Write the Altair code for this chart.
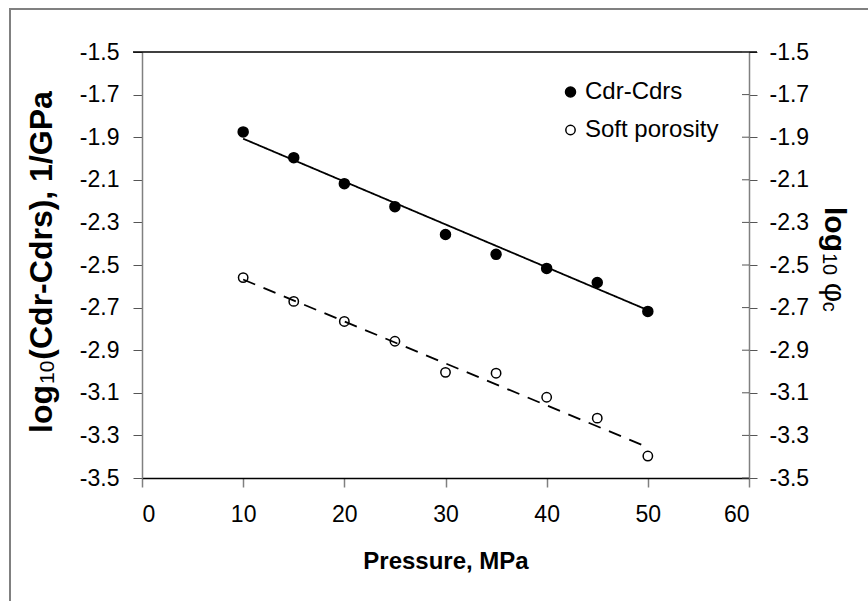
import altair as alt
import pandas as pd

# ---------------- data ----------------
pressure = [10, 15, 20, 25, 30, 35, 40, 45, 50]
cdr_cdrs = [-1.875, -1.996, -2.118, -2.226, -2.357, -2.450, -2.516, -2.582, -2.718]
soft_porosity = [-2.559, -2.671, -2.765, -2.858, -3.004, -3.008, -3.121, -3.219, -3.397]
fit_pressure = [10, 50]
fit_cdr = [-1.907, -2.712]
fit_soft = [-2.568, -3.356]
series_names = ["Cdr-Cdrs", "Soft porosity"]
y_ticks = [-1.5, -1.7, -1.9, -2.1, -2.3, -2.5, -2.7, -2.9, -3.1, -3.3, -3.5]
x_ticks = [0, 10, 20, 30, 40, 50, 60]

# ---------------- layout ----------------
FONT = "Liberation Sans"
W, H = 607, 426
PAD_L, PAD_T = 142, 52
PAD_R, PAD_B = 868 - PAD_L - W, 601 - PAD_T - H

pts = pd.DataFrame({
    "pressure": pressure + pressure,
    "value": cdr_cdrs + soft_porosity,
    "series": [series_names[0]] * len(pressure) + [series_names[1]] * len(pressure),
})
fits = pd.DataFrame({
    "pressure": fit_pressure + fit_pressure,
    "value": fit_cdr + fit_soft,
    "fit": [series_names[0]] * 2 + [series_names[1]] * 2,
})
one = pd.DataFrame({"a": [0]})

x_scale = alt.Scale(domain=[0, 60], nice=False, zero=False)
y_scale = alt.Scale(domain=[-3.5, -1.5], nice=False, zero=False)
label_expr = "replace(format(datum.value, '.1f'), '\u2212', '-')"

x_axis = alt.Axis(values=x_ticks, format="d", grid=False,
                  domainColor="black", domainWidth=1.5,
                  tickColor="#808080", tickSize=9, tickWidth=1.5,
                  labelFontSize=23, labelPadding=16, labelFont=FONT, labelColor="black",
                  title="Pressure, MPa", titleFont=FONT, titleFontSize=24,
                  titleFontWeight="bold", titlePadding=23, titleColor="black")
y_axis_left = alt.Axis(values=y_ticks, labelExpr=label_expr, grid=False,
                       domainColor="#808080", domainWidth=1.5,
                       tickColor="#555555", tickSize=9,
                       labelFontSize=23, labelPadding=14, labelFont=FONT, labelColor="black",
                       title=None)
y_axis_right = alt.Axis(orient="right", values=y_ticks, labelExpr=label_expr, grid=False,
                        domainColor="#808080", domainWidth=1.5,
                        tickColor="#555555", tickSize=8,
                        labelFontSize=23, labelPadding=12, labelFont=FONT, labelColor="black",
                        title=None)

# outer frame of the figure
frame = alt.Chart(one).mark_rect(fillOpacity=0, stroke="#808080", strokeWidth=2).encode(
    x=alt.value(10 - PAD_L), y=alt.value(9 - PAD_T),
    x2=alt.value(W + 400), y2=alt.value(H + 400))

# black top border of plot area
top_line = alt.Chart(one).mark_rule(color="black", strokeWidth=1.5).encode(
    x=alt.value(-9), x2=alt.value(W + 8), y=alt.value(0))

# inner half of right-axis ticks (ticks cross the right axis)
right_ticks = alt.Chart(pd.DataFrame({"tick": y_ticks})).mark_rule(
    color="#555555", strokeWidth=1).encode(
    y=alt.Y("tick:Q", scale=y_scale, axis=y_axis_right),
    x=alt.value(W - 7), x2=alt.value(W))

lines = alt.Chart(fits).mark_line(color="black", strokeWidth=1.8).encode(
    x=alt.X("pressure:Q", scale=x_scale, axis=x_axis),
    y=alt.Y("value:Q", scale=y_scale, axis=None),
    strokeDash=alt.StrokeDash("fit:N",
                              scale=alt.Scale(domain=series_names, range=[[1, 0], [13, 9]]),
                              legend=None),
)

FILLS = ["black", "transparent"]
SIZES = [100, 88]

points = alt.Chart(pts).mark_point(filled=True, shape="circle", opacity=1,
                                   stroke="black", strokeWidth=1.5).encode(
    x=alt.X("pressure:Q", scale=x_scale, axis=x_axis),
    y=alt.Y("value:Q", scale=y_scale, axis=y_axis_left),
    fill=alt.Fill("series:N", scale=alt.Scale(domain=series_names, range=FILLS), legend=None),
    size=alt.Size("series:N", scale=alt.Scale(domain=series_names, range=SIZES), legend=None),
)

# ---------------- legend (drawn by hand, top right of plot) ----------------
legend_layers = []
LEG_X, LEG_Y0, LEG_DY = 570.5 - PAD_L, 92 - PAD_T, 38
for i, name in enumerate(series_names):
    yy = LEG_Y0 + i * LEG_DY
    legend_layers.append(
        alt.Chart(one).mark_point(filled=True, shape="circle", opacity=1, fill=FILLS[i],
                                  stroke="black", strokeWidth=1.5, size=SIZES[i]).encode(
            x=alt.value(LEG_X), y=alt.value(yy)))
    legend_layers.append(
        alt.Chart(one).mark_text(text=name, font=FONT, fontSize=24, align="left",
                                 baseline="middle", color="black").encode(
            x=alt.value(LEG_X + 14.5), y=alt.value(yy)))

# ---------------- rotated axis titles built from text pieces ----------------
BOLD_W = {"l": 278, "o": 611, "g": 611, "(": 333, "C": 722, "d": 611, "r": 389, "-": 333,
          "s": 556, ")": 333, ",": 278, " ": 278, "1": 556, "/": 278, "G": 778, "P": 667,
          "a": 556}
REG_W = {"1": 556, "0": 556, "c": 500, "φ": 600, " ": 278}


def text_width(s, size, bold):
    table = BOLD_W if bold else REG_W
    return sum(table.get(ch, 556) for ch in s) * size / 1000.0


def piece(s, x, y, size, bold, angle):
    return alt.Chart(one).mark_text(
        text=s, font=FONT, fontSize=size, fontWeight="bold" if bold else "normal",
        angle=angle, align="left", baseline="alphabetic", color="black").encode(
        x=alt.value(x), y=alt.value(y))


title_layers = []
# left title, reading bottom to top
left_parts = [("log", 32, True, 0), ("10", 21, False, 2), ("(Cdr-Cdrs), 1/GPa", 32, True, 0)]
ly = 433 - PAD_T
lx = 52 - PAD_L
for s, size, bold, shift in left_parts:
    title_layers.append(piece(s, lx + shift, ly, size, bold, 270))
    ly -= text_width(s, size, bold) + 1

# right title, reading top to bottom
right_parts = [("log", 30, True, 0), ("10", 20, False, -2), (" ", 20, False, 0),
               ("φ", 30, False, 0), ("c", 20, False, -2)]
ry = 207 - PAD_T
rx = 825 - PAD_L
for s, size, bold, shift in right_parts:
    if s.strip():
        title_layers.append(piece(s, rx + shift, ry, size, bold, 90))
    ry += text_width(s, size, bold) + 1

chart = alt.layer(frame, top_line, right_ticks, lines, points,
                  *legend_layers, *title_layers).resolve_axis(
    y="independent"
).properties(
    width=W, height=H,
    autosize=alt.AutoSizeParams(type="none"),
    padding={"left": PAD_L, "top": PAD_T, "right": PAD_R, "bottom": PAD_B},
    background="white",
).configure_view(stroke=None)

chart.save("out.html", embed_options={"renderer": "svg", "actions": False})
